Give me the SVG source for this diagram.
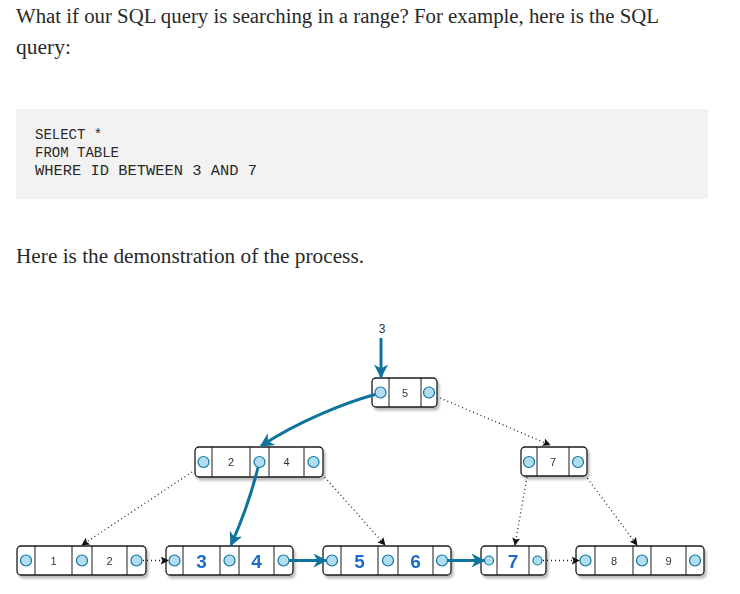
<svg xmlns="http://www.w3.org/2000/svg" width="740" height="594" viewBox="0 0 740 594">
<style>
.prose{font-family:"Liberation Serif","Times New Roman",serif;font-size:20px;fill:#292929}
.code{font-family:"Liberation Mono","DejaVu Sans Mono",monospace;font-size:14px;fill:#292929}
.box{fill:#ffffff;stroke:#1a1a1a;stroke-width:1.3}
.div{stroke:#1a1a1a;stroke-width:1}
.dot{fill:#b1ddf0;stroke:#10739e;stroke-width:1.2}
.k{font-family:"Liberation Sans",Arial,sans-serif;font-size:11px;fill:#333333;text-anchor:middle}
.kb{font-family:"Liberation Sans",Arial,sans-serif;font-size:19px;font-weight:bold;fill:#1b6ccc;text-anchor:middle}
.thick{fill:none;stroke:#10739e;stroke-width:3}
.dotted{fill:none;stroke:#222;stroke-width:1.3;stroke-dasharray:1 3}
</style>
<defs>
<filter id="sh" x="-10%" y="-20%" width="130%" height="160%">
<feDropShadow dx="2" dy="3" stdDeviation="1.2" flood-color="#000" flood-opacity="0.25"/>
</filter>
<marker id="ab" viewBox="0 0 10 10" refX="9" refY="5" markerWidth="14" markerHeight="14" markerUnits="userSpaceOnUse" orient="auto">
<path d="M0,0 L10,5 L0,10 L3,5 Z" fill="#10739e"/>
</marker>
<marker id="ak" viewBox="0 0 10 10" refX="9" refY="5" markerWidth="8" markerHeight="8" markerUnits="userSpaceOnUse" orient="auto">
<path d="M0,0 L10,5 L0,10 L2,5 Z" fill="#111"/>
</marker>
</defs>
<rect width="740" height="594" fill="#ffffff"/>
<g id="intro">
<text class="prose" x="16" y="23" textLength="643" lengthAdjust="spacingAndGlyphs">What if our SQL query is searching in a range? For example, here is the SQL</text>
<text class="prose" x="16" y="54" textLength="55" lengthAdjust="spacingAndGlyphs">query:</text>
</g>
<g id="codeblock">
<rect x="16" y="109" width="692" height="90" fill="#f2f2f2"/>
<text class="code" x="35" y="139">SELECT *</text>
<text class="code" x="35" y="157">FROM TABLE</text>
<text class="code" x="35" y="175" textLength="222" lengthAdjust="spacingAndGlyphs">WHERE ID BETWEEN 3 AND 7</text>
</g>
<g id="caption">
<text class="prose" x="16" y="263" textLength="348" lengthAdjust="spacingAndGlyphs">Here is the demonstration of the process.</text>
</g>
<g id="search-label">
<text class="k" x="382" y="333" style="font-size:12px">3</text>
</g>
<g id="root" filter="url(#sh)">
<rect class="box" x="372" y="378" width="65" height="29" rx="4"/>
<line class="div" x1="389" y1="378" x2="389" y2="407"/>
<line class="div" x1="421" y1="378" x2="421" y2="407"/>
<circle class="dot" cx="380.5" cy="392.5" r="5.5"/>
<circle class="dot" cx="429" cy="392.5" r="5.5"/>
<text class="k" x="405" y="396.5">5</text>
</g>
<g id="node-2-4" filter="url(#sh)">
<rect class="box" x="195" y="447" width="128" height="30" rx="4"/>
<line class="div" x1="212" y1="447" x2="212" y2="477"/>
<line class="div" x1="250" y1="447" x2="250" y2="477"/>
<line class="div" x1="269" y1="447" x2="269" y2="477"/>
<line class="div" x1="304" y1="447" x2="304" y2="477"/>
<circle class="dot" cx="203.5" cy="462" r="5.5"/>
<circle class="dot" cx="259.5" cy="462" r="5.5"/>
<circle class="dot" cx="313.5" cy="462" r="5.5"/>
<text class="k" x="231" y="466">2</text>
<text class="k" x="286.5" y="466">4</text>
</g>
<g id="node-7" filter="url(#sh)">
<rect class="box" x="521" y="447" width="66" height="29" rx="4"/>
<line class="div" x1="537" y1="447" x2="537" y2="476"/>
<line class="div" x1="569" y1="447" x2="569" y2="476"/>
<circle class="dot" cx="529" cy="462" r="5.5"/>
<circle class="dot" cx="578" cy="462" r="5.5"/>
<text class="k" x="553" y="466">7</text>
</g>
<g id="leaf-1-2" filter="url(#sh)">
<rect class="box" x="17" y="546" width="129" height="29" rx="4"/>
<line class="div" x1="35" y1="546" x2="35" y2="575"/>
<line class="div" x1="72" y1="546" x2="72" y2="575"/>
<line class="div" x1="92" y1="546" x2="92" y2="575"/>
<line class="div" x1="127" y1="546" x2="127" y2="575"/>
<circle class="dot" cx="26" cy="560.5" r="5.5"/>
<circle class="dot" cx="82" cy="560.5" r="5.5"/>
<circle class="dot" cx="136.5" cy="560.5" r="5.5"/>
<text class="k" x="53.5" y="564.5">1</text>
<text class="k" x="109.5" y="564.5">2</text>
</g>
<g id="leaf-3-4" filter="url(#sh)">
<rect class="box" x="166" y="546" width="127" height="29" rx="4"/>
<line class="div" x1="183" y1="546" x2="183" y2="575"/>
<line class="div" x1="220" y1="546" x2="220" y2="575"/>
<line class="div" x1="239" y1="546" x2="239" y2="575"/>
<line class="div" x1="274" y1="546" x2="274" y2="575"/>
<circle class="dot" cx="174.5" cy="560.5" r="5.5"/>
<circle class="dot" cx="229.5" cy="560.5" r="5.5"/>
<circle class="dot" cx="283.5" cy="560.5" r="5.5"/>
<text class="kb" x="201.5" y="567.5">3</text>
<text class="kb" x="256.5" y="567.5">4</text>
</g>
<g id="leaf-5-6" filter="url(#sh)">
<rect class="box" x="323" y="546" width="128" height="29" rx="4"/>
<line class="div" x1="341" y1="546" x2="341" y2="575"/>
<line class="div" x1="378" y1="546" x2="378" y2="575"/>
<line class="div" x1="398" y1="546" x2="398" y2="575"/>
<line class="div" x1="433" y1="546" x2="433" y2="575"/>
<circle class="dot" cx="332" cy="560.5" r="5.5"/>
<circle class="dot" cx="388" cy="560.5" r="5.5"/>
<circle class="dot" cx="442" cy="560.5" r="5.5"/>
<text class="kb" x="359.5" y="567.5">5</text>
<text class="kb" x="415.5" y="567.5">6</text>
</g>
<g id="leaf-7" filter="url(#sh)">
<rect class="box" x="481" y="546" width="65" height="29" rx="4"/>
<line class="div" x1="497" y1="546" x2="497" y2="575"/>
<line class="div" x1="529" y1="546" x2="529" y2="575"/>
<circle class="dot" cx="489" cy="560.5" r="4.5"/>
<circle class="dot" cx="537.5" cy="560.5" r="4.5"/>
<text class="kb" x="513" y="567.5">7</text>
</g>
<g id="leaf-8-9" filter="url(#sh)">
<rect class="box" x="576" y="546" width="128" height="29" rx="4"/>
<line class="div" x1="595" y1="546" x2="595" y2="575"/>
<line class="div" x1="633" y1="546" x2="633" y2="575"/>
<line class="div" x1="651" y1="546" x2="651" y2="575"/>
<line class="div" x1="686" y1="546" x2="686" y2="575"/>
<circle class="dot" cx="585.5" cy="560.5" r="5.5"/>
<circle class="dot" cx="642" cy="560.5" r="5.5"/>
<circle class="dot" cx="695" cy="560.5" r="5.5"/>
<text class="k" x="614" y="564.5">8</text>
<text class="k" x="668.5" y="564.5">9</text>
</g>
<g id="connectors">
<path class="thick" d="M381,338 L381,377" marker-end="url(#ab)"/>
<path class="thick" d="M375,394.5 C348,402 300,420 261,446" marker-end="url(#ab)"/>
<path class="thick" d="M258,467.5 C252,492 244,516 231,545" marker-end="url(#ab)"/>
<path class="dotted" d="M440,398 L550,445" marker-end="url(#ak)"/>
<path class="dotted" d="M192,472 L82,545" marker-end="url(#ak)"/>
<path class="dotted" d="M322,474 L385,545" marker-end="url(#ak)"/>
<path class="dotted" d="M527,477 L515,545" marker-end="url(#ak)"/>
<path class="dotted" d="M585,475 L637,545" marker-end="url(#ak)"/>
<path class="dotted" d="M143,560.5 L168,560.5" marker-end="url(#ak)"/>
<path class="dotted" d="M543,560.5 L579,560.5" marker-end="url(#ak)"/>
<path class="thick" d="M289,560.5 L326,560.5" marker-end="url(#ab)"/>
<path class="thick" d="M447.5,560.5 L484,560.5" marker-end="url(#ab)"/>
</g>
</svg>
